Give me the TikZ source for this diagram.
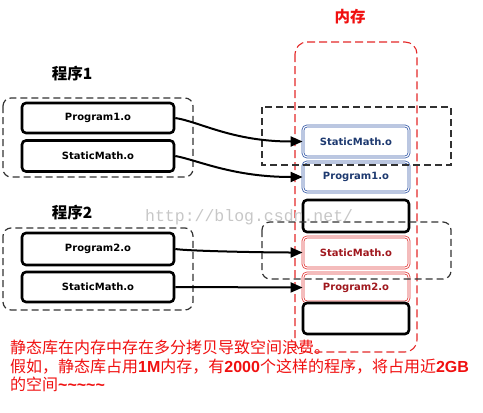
\documentclass[tikz,border=0pt]{standalone}
\usepackage{fontspec}
\setmainfont{DejaVu Sans}
\newfontfamily\cjk{Noto Sans CJK SC}
\newfontfamily\lat{Liberation Sans}
\newfontfamily\wmfont{Liberation Mono}
\usetikzlibrary{arrows.meta}
\definecolor{memred}{RGB}{228,40,40}
\definecolor{txtred}{RGB}{240,16,16}
\definecolor{boxblue}{RGB}{62,96,170}
\definecolor{labblue}{RGB}{30,58,112}
\definecolor{boxred}{RGB}{226,64,64}
\definecolor{labred}{RGB}{160,24,30}
\definecolor{dashgray}{RGB}{50,50,50}
\begin{document}
\begin{tikzpicture}[x=1pt,y=-1pt,
  objbox/.style={draw=black,line width=2.6pt,rounded corners=4pt,fill=white,
    font=\bfseries\fontsize{10}{12}\selectfont,inner sep=0pt},
  bluebox/.style={objbox,draw=boxblue,double=white,double distance=1.1pt,line width=0.8pt,text=labblue},
  redbox/.style={objbox,draw=boxred,double=white,double distance=1.1pt,line width=0.8pt,text=labred},
  groupbox/.style={draw=dashgray,line width=1.2pt,dash pattern=on 7pt off 4pt},
  membox/.style={draw=memred,line width=1.1pt,dash pattern=on 8pt off 4pt,rounded corners=12pt},
  link/.style={line width=2pt,-{Triangle[length=12pt,width=10pt]}},
  title/.style={font=\cjk\bfseries\fontsize{15.5}{18}\selectfont},
  note/.style={font=\cjk\fontsize{16}{19}\selectfont,text=txtred,anchor=base west,inner sep=0pt}]
\useasboundingbox (0,0) rectangle (483,413);

% memory area
\node[title,text=txtred] (memtitle) at (350,17) {内存};
\draw[membox] (295,42) rectangle (417,352);

% program 1 and program 2 groups
\node[title] (t1) at (72,74) {程序1};
\draw[groupbox,rounded corners=8pt] (3,98) rectangle (193,177);
\node[title] (t2) at (72,213) {程序2};
\draw[groupbox,rounded corners=8pt] (3,228) rectangle (193,310);

% object files of each program
\node[objbox,minimum width=152pt,minimum height=30pt] (p1) at (98,118) {Program1.o};
\node[objbox,minimum width=152pt,minimum height=31pt] (s1) at (98,156) {StaticMath.o};
\node[objbox,minimum width=152pt,minimum height=32pt] (p2) at (98,249) {Program2.o};
\node[objbox,minimum width=152pt,minimum height=30pt] (s2) at (98,287) {StaticMath.o};

% loaded copies in memory
\node[bluebox,minimum width=106pt,minimum height=31pt] (m1) at (356,141.5) {StaticMath.o};
\node[bluebox,minimum width=106pt,minimum height=30pt] (m2) at (356,177) {Program1.o};
\node[objbox,minimum width=106pt,minimum height=32pt] (m3) at (356,216) {};
\node[redbox,minimum width=106pt,minimum height=31pt] (m4) at (356,252.5) {StaticMath.o};
\node[redbox,minimum width=106pt,minimum height=29pt] (m5) at (356,287.5) {Program2.o};
\node[objbox,minimum width=106pt,minimum height=31pt] (m6) at (356,318.5) {};

% each program's share of memory, drawn over the copies
\draw[groupbox] (262,107) rectangle (451,165);
\draw[groupbox,rounded corners=8pt] (262,222) rectangle (451,279);

% site watermark
\node[font=\wmfont\fontsize{16.5}{18}\selectfont,text=black!22,anchor=base west,inner sep=0pt] (wm) at (145,221) {http://blog.csdn.net/};

% loading links
\draw[link] (p1.east) .. controls +(25,4) and +(-70,0) .. (m1.west);
\draw[link] (s1.east) .. controls +(22,4) and +(-70,0) .. (m2.west);
\draw[link] (p2.east) .. controls +(12,2) and +(-40,0) .. (m4.west);
\draw[link] (s2.east) -- (m5.west);

% remark
\node[note] (n1) at (10,353) {静态库在内存中存在多分拷贝导致空间浪费。};
\node[note] (n2) at (10,372) {假如，静态库占用{\lat\bfseries 1M}内存，有{\lat\bfseries 2000}个这样的程序，将占用近{\lat\bfseries 2GB}};
\node[note] (n3) at (10,390) {的空间{\lat\bfseries \char`~\char`~\char`~\char`~\char`~}};
\end{tikzpicture}
\end{document}
